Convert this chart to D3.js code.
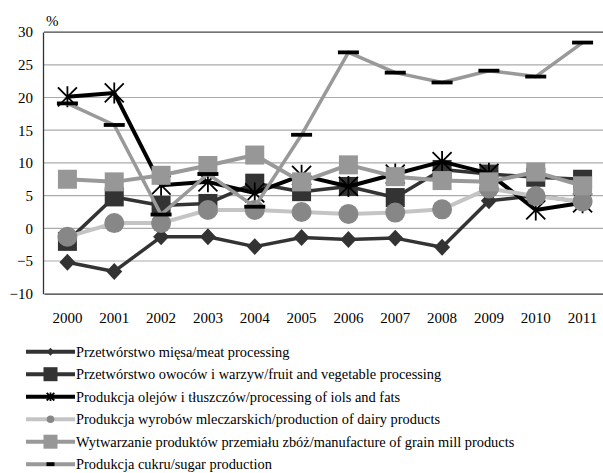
<!DOCTYPE html>
<html>
<head>
<meta charset="utf-8">
<script src="https://cdn.jsdelivr.net/npm/d3@7/dist/d3.min.js"></script>
<style>
  html, body { margin: 0; padding: 0; background: #fff; }
  svg { display: block; }
  text { font-family: "Liberation Serif", "Times New Roman", serif; fill: #000; }
</style>
</head>
<body>
<svg id="chart" width="603" height="473"></svg>
<script>
// Dynamika (%) w branżach przemysłu spożywczego, 2000–2011
const years = ["2000","2001","2002","2003","2004","2005","2006","2007","2008","2009","2010","2011"];
const yTicks = [-10, -5, 0, 5, 10, 15, 20, 25, 30];

const meat   = [-5.2, -6.6, -1.3, -1.3, -2.8, -1.4, -1.7, -1.5, -2.9, 4.2, 5.0, 4.0];
const fruit  = [-2.0, 4.8, 3.5, 3.8, 6.9, 5.6, 6.4, 4.7, 9.0, 8.3, 7.8, 7.5];
const oils   = [20.1, 20.7, 6.6, 7.1, 5.4, 8.1, 6.4, 8.3, 10.2, 8.4, 2.8, 3.9];
const dairy  = [-1.3, 0.8, 0.8, 2.8, 2.8, 2.5, 2.2, 2.4, 2.9, 6.1, 4.9, 4.1];
const grain  = [7.5, 7.1, 8.1, 9.6, 11.2, 7.1, 9.7, 7.9, 7.3, 7.1, 8.6, 6.5];
const sugar  = [19.1, 15.8, 2.1, 8.3, 3.3, 14.3, 26.9, 23.8, 22.3, 24.1, 23.2, 28.4];

const seriesNames = [
  "Przetwórstwo mięsa/meat processing",
  "Przetwórstwo owoców i warzyw/fruit and vegetable processing",
  "Produkcja olejów i tłuszczów/processing of iols and fats",
  "Produkcja wyrobów mleczarskich/production of dairy products",
  "Wytwarzanie produktów przemiału zbóż/manufacture of grain mill products",
  "Produkcja cukru/sugar production"
];

const styles = [
  { line: "#333", width: 3.5, marker: "diamond", fill: "#333" },
  { line: "#333", width: 3.5, marker: "square",  fill: "#333" },
  { line: "#000", width: 4,   marker: "star",    fill: "#000" },
  { line: "#c4c4c4", width: 4, marker: "circle", fill: "#878787" },
  { line: "#999", width: 4,   marker: "square",  fill: "#979797" },
  { line: "#999", width: 3.5, marker: "dash",    fill: "#000" }
];
const seriesValues = [meat, fruit, oils, dairy, grain, sugar];

const svg = d3.select("#chart");
const plot = { left: 44, right: 606, top: 32.1, bottom: 293.7 };

const x = d3.scaleBand().domain(years).range([plot.left, plot.right]).padding(0);
const cx = d => x(d) + x.bandwidth() / 2;
const y = d3.scaleLinear().domain([-10, 30]).range([plot.bottom, plot.top]);

// horizontal gridlines
const grid = svg.append("g");
grid.selectAll("line").data(yTicks.filter(t => t > -10 && t < 30)).join("line")
  .attr("x1", plot.left).attr("x2", plot.right)
  .attr("y1", d => y(d)).attr("y2", d => y(d))
  .attr("stroke", "#ababab").attr("stroke-width", 1.2);

// top frame line
svg.append("line")
  .attr("x1", plot.left).attr("x2", plot.right)
  .attr("y1", y(30)).attr("y2", y(30))
  .attr("stroke", "#444").attr("stroke-width", 1.3);

// y axis
const yAxis = svg.append("g")
  .attr("transform", `translate(${plot.left - 1},0)`)
  .call(d3.axisLeft(y).tickValues(yTicks).tickSize(0).tickPadding(10).tickFormat(d3.format("d")));
yAxis.select(".domain").attr("stroke", "#333").attr("stroke-width", 1.3);
yAxis.selectAll("text").style("font-size", "15px").style("font-family", "Liberation Serif");

// x axis
const xAxis = svg.append("g")
  .attr("transform", `translate(0,${plot.bottom})`)
  .call(d3.axisBottom(x).tickSize(0).tickPadding(19));
xAxis.select(".domain").attr("stroke", "#333").attr("stroke-width", 1.3);
xAxis.selectAll("text").style("font-size", "15px").style("font-family", "Liberation Serif");

svg.append("text").attr("x", 46).attr("y", 26).style("font-size", "15px").text("%");

// marker drawing
function drawMarker(g, type, fill, size) {
  const s = size;
  if (type === "diamond") {
    g.append("path").attr("d", `M0,${-s * 1.06}L${s},0L0,${s * 1.06}L${-s},0Z`).attr("fill", fill);
  } else if (type === "square") {
    g.append("rect").attr("x", -s).attr("y", -s).attr("width", 2 * s).attr("height", 2 * s).attr("fill", fill);
  } else if (type === "circle") {
    g.append("circle").attr("r", s).attr("fill", fill);
  } else if (type === "star") {
    const a = s * 0.95;
    g.append("path")
      .attr("d", `M${-a},${-a}L${a},${a}M${a},${-a}L${-a},${a}M0,${-s * 1.05}L0,${s * 1.05}`)
      .attr("stroke", fill).attr("stroke-width", 1.8).attr("fill", "none");
  } else if (type === "dash") {
    g.append("rect").attr("x", -s).attr("y", -1.9).attr("width", 2 * s).attr("height", 3.8).attr("fill", fill);
  }
}

const markerSize = { diamond: 8, square: 9.5, circle: 10, star: 10, dash: 10.5 };
const line = d3.line().x((d, i) => cx(years[i])).y(d => y(d));

seriesValues.forEach((vals, k) => {
  const st = styles[k];
  const g = svg.append("g");
  g.append("path").datum(vals).attr("d", line)
    .attr("fill", "none").attr("stroke", st.line).attr("stroke-width", st.width)
    .attr("stroke-linejoin", "round");
  g.selectAll("g.m").data(vals).join("g").attr("class", "m")
    .attr("transform", (d, i) => `translate(${cx(years[i])},${y(d)})`)
    .each(function () { drawMarker(d3.select(this), st.marker, st.fill, markerSize[st.marker]); });
});

// legend
const legendSize = { diamond: 3.8, square: 7, circle: 3.8, star: 4, dash: 4 };
const legend = svg.append("g");
seriesNames.forEach((name, k) => {
  const st = styles[k];
  const ly = 351.7 + k * 22.5;
  const row = legend.append("g").attr("transform", `translate(0,${ly})`);
  row.append("line").attr("x1", 26).attr("x2", 75).attr("y1", 0).attr("y2", 0)
    .attr("stroke", st.line).attr("stroke-width", 4);
  const m = row.append("g").attr("transform", "translate(50.5,0)");
  drawMarker(m, st.marker, st.fill, legendSize[st.marker]);
  row.append("text").attr("x", 76).attr("y", 5).style("font-size", "14.4px").text(name);
});
</script>
</body>
</html>
